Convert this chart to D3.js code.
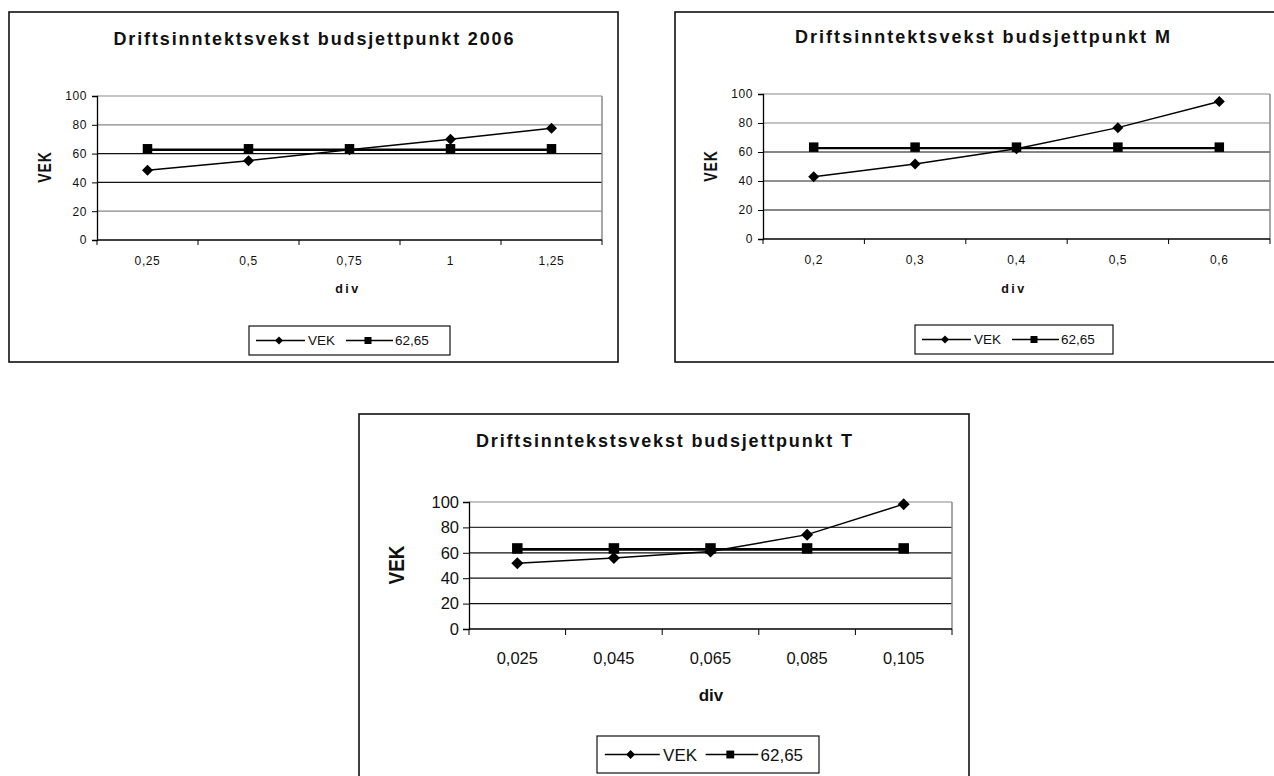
<!DOCTYPE html>
<html><head><meta charset="utf-8">
<script src="https://cdn.jsdelivr.net/npm/d3@7"></script>
<style>
html,body{margin:0;padding:0;background:#fff;}
svg{display:block;font-family:"Liberation Sans",Arial,sans-serif;}
</style></head>
<body>
<svg id="c" width="1274" height="776"></svg>
<script>
// ---- data ----
const seriesNames = ["VEK", "62,65"];
const yTicks = [0, 20, 40, 60, 80, 100];

const chart1Title = "Driftsinntektsvekst budsjettpunkt 2006";
const chart1Categories = ["0,25", "0,5", "0,75", "1", "1,25"];
const chart1VEK = [48.5, 55.1, 62.7, 70.0, 77.6];
const chart1Ref = [62.65, 62.65, 62.65, 62.65, 62.65];

const chart2Title = "Driftsinntektsvekst budsjettpunkt M";
const chart2Categories = ["0,2", "0,3", "0,4", "0,5", "0,6"];
const chart2VEK = [43.0, 51.8, 62.3, 76.8, 94.8];
const chart2Ref = [62.65, 62.65, 62.65, 62.65, 62.65];

const chart3Title = "Driftsinntekstsvekst budsjettpunkt T";
const chart3Categories = ["0,025", "0,045", "0,065", "0,085", "0,105"];
const chart3VEK = [51.8, 56.0, 61.0, 74.3, 98.3];
const chart3Ref = [62.65, 62.65, 62.65, 62.65, 62.65];

const xTitle = "div";
const yTitle = "VEK";

// ---- layout ----
const svg = d3.select("#c");

function drawChart(o) {
  const g = svg.append("g");
  g.append("rect").attr("x", o.box[0]).attr("y", o.box[1])
    .attr("width", o.box[2] - o.box[0]).attr("height", o.box[3] - o.box[1])
    .attr("fill", "#fff").attr("stroke", "#111").attr("stroke-width", 1.6);

  const x = d3.scaleBand().domain(o.cats).range([o.plot[0], o.plot[1]]).padding(0);
  const y = d3.scaleLinear().domain([0, 100]).range([o.plot[3], o.plot[2]]);

  g.selectAll(".grid").data(yTicks.filter(t => t > 0)).join("line")
    .attr("x1", o.plot[0]).attr("x2", o.plot[1])
    .attr("y1", d => y(d)).attr("y2", d => y(d))
    .attr("stroke", (d, i) => o.gridColors[i]).attr("stroke-width", 1.2);
  g.append("line").attr("x1", o.plot[1]).attr("x2", o.plot[1])
    .attr("y1", y(100)).attr("y2", y(0)).attr("stroke", "#8a8a8a").attr("stroke-width", 1.5);

  const ya = d3.axisLeft(y).tickValues(yTicks).tickSize(o.tick).tickPadding(o.ypad);
  const yg = g.append("g").attr("transform", `translate(${o.plot[0]},0)`).call(ya);
  yg.select(".domain").attr("stroke", "#000").attr("stroke-width", 1.3);
  yg.selectAll(".tick line").attr("stroke", "#000");
  yg.selectAll("text").attr("font-size", o.tickFont).attr("fill", "#111")
    .attr("letter-spacing", o.tickLS).attr("font-family", "Liberation Sans, Arial, sans-serif");

  const xg = g.append("g").attr("transform", `translate(0,${o.plot[3]})`);
  xg.append("line").attr("x1", o.plot[0]).attr("x2", o.plot[1]).attr("stroke", "#000").attr("stroke-width", 1.3);
  const bounds = o.cats.map(c => x(c)).concat([o.plot[1]]);
  xg.selectAll(".xt").data(bounds).join("line")
    .attr("x1", d => d).attr("x2", d => d).attr("y1", 0).attr("y2", o.tick).attr("stroke", "#000");
  xg.selectAll(".xl").data(o.cats).join("text")
    .attr("x", d => x(d) + x.bandwidth() / 2).attr("y", o.xLabelDy)
    .attr("text-anchor", "middle").attr("font-size", o.tickFont).attr("fill", "#111")
    .attr("letter-spacing", o.tickLS).text(d => d);

  const cx = c => x(c) + x.bandwidth() / 2;
  const line = d3.line().x(d => cx(d.c)).y(d => y(d.v));
  const ref = o.cats.map((c, i) => ({ c, v: o.ref[i] }));
  const vek = o.cats.map((c, i) => ({ c, v: o.vek[i] }));
  g.append("path").datum(ref).attr("d", line).attr("fill", "none").attr("stroke", "#000").attr("stroke-width", o.refW);
  g.append("path").datum(vek).attr("d", line).attr("fill", "none").attr("stroke", "#000").attr("stroke-width", 1.5);
  const sq = o.sq, dm = o.dm;
  g.selectAll(".sq").data(ref).join("rect")
    .attr("x", d => cx(d.c) - sq / 2).attr("y", d => y(d.v) - sq / 2 - 1)
    .attr("width", sq).attr("height", sq).attr("fill", "#000");
  g.selectAll(".dm").data(vek).join("path")
    .attr("d", d => `M${cx(d.c)},${y(d.v) - dm}L${cx(d.c) + dm},${y(d.v)}L${cx(d.c)},${y(d.v) + dm}L${cx(d.c) - dm},${y(d.v)}Z`)
    .attr("fill", "#000");

  g.append("text").attr("x", (o.box[0] + o.box[2]) / 2).attr("y", o.titleY)
    .attr("text-anchor", "middle").attr("font-weight", "bold").attr("font-size", o.titleFont)
    .attr("textLength", o.titleLen).attr("lengthAdjust", "spacing").attr("fill", "#111").text(o.title);
  g.append("text").attr("x", o.divX).attr("y", o.divY).attr("text-anchor", "middle")
    .attr("font-weight", "bold").attr("font-size", o.axTitleFont).attr("letter-spacing", o.axLS)
    .attr("fill", "#111").text(xTitle);
  g.append("text").attr("transform", `translate(${o.vekX},${o.vekY}) rotate(-90) scale(1,${o.vekStretch})`)
    .attr("text-anchor", "middle").attr("dy", "0.36em").attr("font-weight", "bold").attr("font-size", o.vekFont)
    .attr("letter-spacing", o.vekLS).attr("fill", "#111").text(yTitle);

  const L = o.legend, s = L.s;
  g.append("rect").attr("x", L.x).attr("y", L.y).attr("width", L.w).attr("height", L.h)
    .attr("fill", "#fff").attr("stroke", "#111").attr("stroke-width", 1.2);
  const my = L.y + L.h / 2;
  const items = [
    { name: seriesNames[0], x1: 7 * s, x2: 56 * s, m: 30 * s, t: 59 * s, shape: "d" },
    { name: seriesNames[1], x1: 97 * s, x2: 144 * s, m: 119 * s, t: 146 * s, shape: "s" }
  ];
  items.forEach(it => {
    g.append("line").attr("x1", L.x + it.x1).attr("x2", L.x + it.x2).attr("y1", my).attr("y2", my)
      .attr("stroke", "#000").attr("stroke-width", 1.4);
    const mx = L.x + it.m;
    if (it.shape === "d") {
      const r = 4 * s;
      g.append("path").attr("d", `M${mx},${my - r}L${mx + r},${my}L${mx},${my + r}L${mx - r},${my}Z`).attr("fill", "#000");
    } else {
      const a = 7 * s;
      g.append("rect").attr("x", mx - a / 2).attr("y", my - a / 2).attr("width", a).attr("height", a).attr("fill", "#000");
    }
    g.append("text").attr("x", L.x + it.t).attr("y", my + L.font * 0.36).attr("font-size", L.font)
      .attr("fill", "#111").text(it.name);
  });
}

drawChart({
  box: [9, 12, 618, 362], plot: [97, 602, 96, 240],
  cats: chart1Categories, vek: chart1VEK, ref: chart1Ref, title: chart1Title,
  gridColors: ["#888", "#111", "#111", "#888", "#8a8a8a"],
  tick: 5, ypad: 5, tickFont: 12, tickLS: 0.6, xLabelDy: 25,
  refW: 2.4, sq: 9.5, dm: 5.5,
  titleY: 45, titleFont: 18, titleLen: 400,
  divX: 348, divY: 293, axTitleFont: 12.5, axLS: 2.5,
  vekX: 44, vekY: 167, vekFont: 14, vekLS: 1, vekStretch: 1.3,
  legend: { x: 249, y: 326, w: 201, h: 29, s: 1, font: 13.5 }
});

drawChart({
  box: [675, 12, 1290, 362], plot: [763, 1270, 94, 239],
  cats: chart2Categories, vek: chart2VEK, ref: chart2Ref, title: chart2Title,
  gridColors: ["#111", "#222", "#111", "#888", "#8a8a8a"],
  tick: 5, ypad: 5, tickFont: 12, tickLS: 0.6, xLabelDy: 25,
  refW: 2.4, sq: 9.5, dm: 5.5,
  titleY: 43, titleFont: 18, titleLen: 375,
  divX: 1014, divY: 293, axTitleFont: 12.5, axLS: 2.5,
  vekX: 710, vekY: 166, vekFont: 14, vekLS: 1, vekStretch: 1.3,
  legend: { x: 915, y: 325, w: 198, h: 29, s: 1, font: 13.5 }
});

drawChart({
  box: [359, 414, 969, 800], plot: [469, 952, 502, 629],
  cats: chart3Categories, vek: chart3VEK, ref: chart3Ref, title: chart3Title,
  gridColors: ["#111", "#111", "#111", "#333", "#8a8a8a"],
  tick: 6, ypad: 4, tickFont: 16.5, tickLS: 0, xLabelDy: 35,
  refW: 2.8, sq: 10.5, dm: 6,
  titleY: 447, titleFont: 18, titleLen: 376,
  divX: 711, divY: 701, axTitleFont: 17, axLS: 0,
  vekX: 396, vekY: 565, vekFont: 19, vekLS: 0, vekStretch: 1.15,
  legend: { x: 597, y: 736, w: 222, h: 37, s: 1.12, font: 17 }
});
</script>
</body></html>
